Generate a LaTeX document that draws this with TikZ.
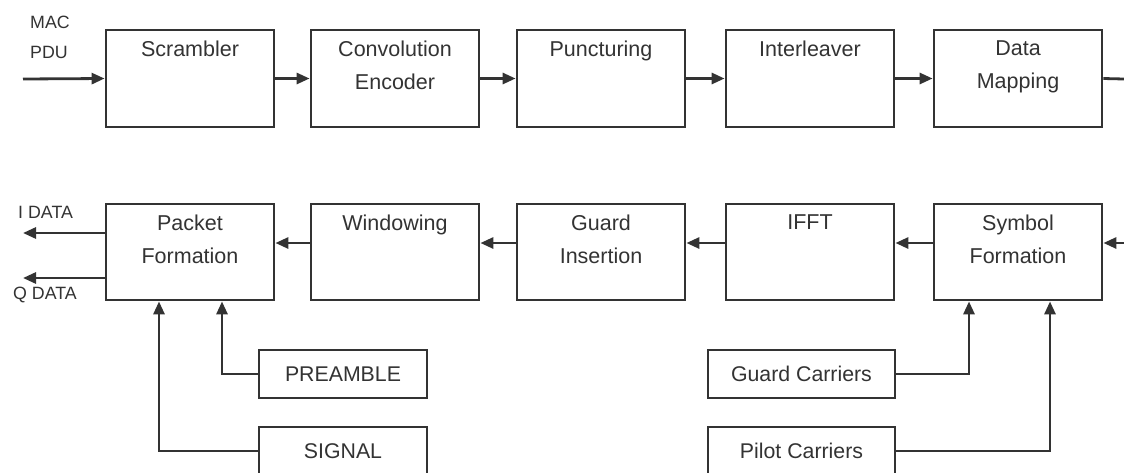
\documentclass[tikz,border=0pt]{standalone}
\usepackage{fontspec}
\setmainfont{Liberation Sans}
\usetikzlibrary{arrows.meta,calc}
\definecolor{ln}{HTML}{333333}
\definecolor{tx}{HTML}{333333}
\tikzset{
  blk/.style={draw=ln, line width=2.8pt, minimum width=168pt, minimum height=97pt, inner sep=0pt},
  sblk/.style={draw=ln, line width=2.8pt, minimum height=48pt, inner sep=0pt, text=tx,
     font=\fontsize{21.3}{24}\selectfont},
  lbl/.style={anchor=north, yshift=-12pt, inner sep=0pt, align=center, text=tx,
     font=\fontsize{21.5}{33}\selectfont},
  side/.style={inner sep=0pt, text=tx, font=\fontsize{17.8}{20}\selectfont},
  arr/.style={draw=ln, line width=2.8pt, -{Triangle[length=13pt,width=11pt]}},
  ln/.style={draw=ln, line width=2.8pt},
}
\begin{document}
\begin{tikzpicture}[x=1pt,y=-1pt]
\clip (0,0) rectangle (1124,472);
\fill[white] (0,0) rectangle (1124,472);
% top row
\node[blk, label={[lbl]north:Scrambler}] (scr) at (190,78.5) {};
\node[blk, label={[lbl]north:Convolution\\Encoder}] (enc) at (395,78.5) {};
\node[blk, label={[lbl]north:Puncturing}] (pun) at (601,78.5) {};
\node[blk, label={[lbl]north:Interleaver}] (int) at (810,78.5) {};
\node[blk, label={[lbl]north:Data\\Mapping}] (map) at (1018,78.5) {};
% bottom row
\node[blk, minimum height=96pt, label={[lbl]north:Packet\\Formation}] (pkt) at (190,252) {};
\node[blk, minimum height=96pt, label={[lbl]north:Windowing}] (win) at (395,252) {};
\node[blk, minimum height=96pt, label={[lbl]north:Guard\\Insertion}] (gin) at (601,252) {};
\node[blk, minimum height=96pt, label={[lbl]north:IFFT}] (ifft) at (810,252) {};
\node[blk, minimum height=96pt, label={[lbl]north:Symbol\\Formation}] (sym) at (1018,252) {};
% side boxes
\node[sblk, minimum width=168pt] (pre) at (343,374) {PREAMBLE};
\node[sblk, minimum width=168pt] (sig) at (343,451) {SIGNAL};
\node[sblk, minimum width=187pt] (gc) at (801.5,374) {Guard Carriers};
\node[sblk, minimum width=187pt] (pc) at (801.5,451) {Pilot Carriers};
% labels
\node[side, anchor=west] (mac) at (30,22) {MAC};
\node[side, anchor=west] (pdu) at (30,52) {PDU};
\node[side, anchor=west] (idata) at (18,212) {I DATA};
\node[side, anchor=west] (qdata) at (13,295) {Q DATA};
% coordinates
\coordinate (in) at (23,79);
\coordinate (outR) at (1124,79);
\coordinate (inR) at (1124,243);
\coordinate (rowB) at (0,243);
\coordinate (iend) at (23,233);
\coordinate (qend) at (23,278);
\coordinate (preX) at (222,0);
\coordinate (sigX) at (159,0);
\coordinate (gcX) at (969,0);
\coordinate (pcX) at (1050,0);
% top connectors
\draw[arr] (in) -- (scr.west);
\draw[arr] (scr.east) -- (enc.west);
\draw[arr] (enc.east) -- (pun.west);
\draw[arr] (pun.east) -- (int.west);
\draw[arr] (int.east) -- (map.west);
\draw[ln] (map.east) -- (outR);
% bottom connectors
\draw[arr] (inR) -- (sym.east |- rowB);
\draw[arr] (sym.west |- rowB) -- (ifft.east |- rowB);
\draw[arr] (ifft.west |- rowB) -- (gin.east |- rowB);
\draw[arr] (gin.west |- rowB) -- (win.east |- rowB);
\draw[arr] (win.west |- rowB) -- (pkt.east |- rowB);
\draw[arr] (pkt.west |- iend) -- (iend);
\draw[arr] (pkt.west |- qend) -- (qend);
% vertical feeds
\draw[arr] (pre.west) -- (preX |- pre.west) -- (preX |- pkt.south);
\draw[arr] (sig.west) -- (sigX |- sig.west) -- (sigX |- pkt.south);
\draw[arr] (gc.east) -- (gcX |- gc.east) -- (gcX |- sym.south);
\draw[arr] (pc.east) -- (pcX |- pc.east) -- (pcX |- sym.south);
\end{tikzpicture}
\end{document}
